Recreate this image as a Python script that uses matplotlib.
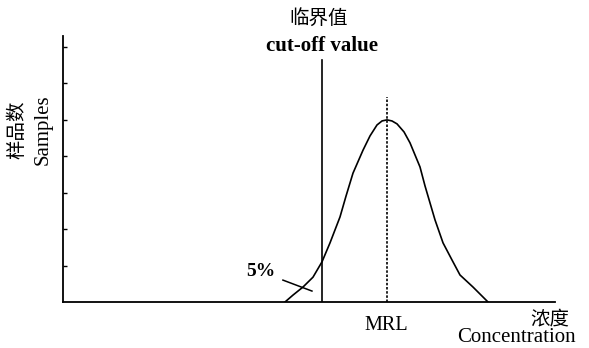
import matplotlib
matplotlib.use("Agg")
import matplotlib.pyplot as plt
import numpy as np

# concentration (x) and number of samples (y)
conc = [45.12, 46.75, 48.78, 50.81, 52.64, 54.27, 56.30, 57.52, 58.94, 60.98,
        62.40, 63.82, 64.84, 65.85, 66.87, 67.89, 69.31, 70.53, 72.56, 73.58,
        75.61, 77.24, 79.07, 80.69, 83.33, 86.38]
samples = [0.0, 0.19, 0.41, 0.68, 1.10, 1.62, 2.33, 2.90, 3.53, 4.16,
           4.55, 4.85, 4.96, 4.99, 4.96, 4.88, 4.66, 4.36, 3.70, 3.18,
           2.25, 1.62, 1.15, 0.74, 0.41, 0.0]

cutoff_x = 52.6
cutoff_top = 6.63
mrl_x = 65.8
mrl_top = 5.62
y_ticks = [1, 2, 3, 4, 5, 6, 7]

# little pointer line for the 5% tail
pointer_x = [44.7, 50.6]
pointer_y = [0.60, 0.30]

serif = ["Liberation Serif", "Noto Sans CJK SC"]
cjk = ["Noto Sans CJK SC", "DejaVu Sans"]

W, H = 589, 348
fig = plt.figure(figsize=(W / 100, H / 100), dpi=100)
fig.patch.set_facecolor("white")

# axes box in pixels: left 63, right 555, baseline 302, top 36
ax = fig.add_axes([63 / W, (H - 302) / H, (555 - 63) / W, (302 - 36) / H])
ax.set_xlim(0, 100)
ax.set_ylim(0, 266 / 36.5)

ax.plot(conc, samples, color="black", lw=1.2, solid_joinstyle="round")
ax.plot([cutoff_x, cutoff_x], [0, cutoff_top], color="black", lw=1.2)
ax.plot([mrl_x, mrl_x], [0, mrl_top], color="black", lw=1.2, ls=(0, (1.5, 1)))
ax.plot(pointer_x, pointer_y, color="black", lw=1.1)

for s in ["top", "right"]:
    ax.spines[s].set_visible(False)
for s in ["left", "bottom"]:
    ax.spines[s].set_linewidth(1.3)
ax.set_xticks([])
ax.set_yticks(y_ticks)
ax.set_yticklabels([])
ax.tick_params(axis="y", direction="in", length=3, width=1)

def ftext(px, py, s, **kw):
    fig.text(px / W, 1 - py / H, s, ha="center", va="center", **kw)

ftext(319, 18, "临界值", family=cjk, fontsize=14)
ftext(322, 46, "cut-off value", family=serif, fontsize=15, fontweight="bold")
ftext(261, 271, "5%", family=serif, fontsize=14, fontweight="bold")
ftext(386, 325, "MRL", family=serif, fontsize=14.5)
ftext(550, 319, "浓度", family=cjk, fontsize=14)
ftext(516, 338, "Concentration", family=serif, fontsize=15)
ftext(17, 130, "样品数", family=cjk, fontsize=14, rotation=90)
ftext(43, 130, "Samples", family=serif, fontsize=15, rotation=90)

fig.savefig("out.png", dpi=100)
